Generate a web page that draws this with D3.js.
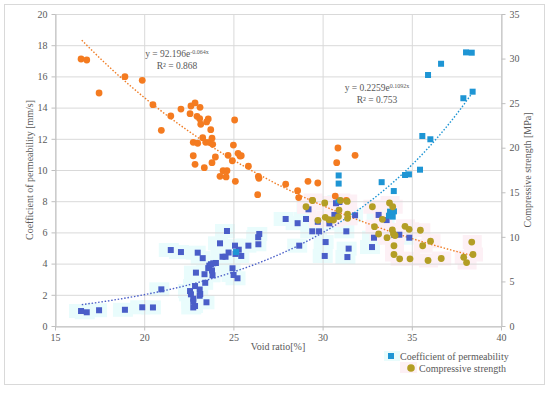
<!DOCTYPE html>
<html>
<head>
<meta charset="utf-8">
<script src="https://cdn.jsdelivr.net/npm/d3@7"></script>
<style>
    body { margin: 0; background: #fff; }
    text { font-family: "Liberation Serif", serif; }
</style>
</head>
<body>
<svg id="chart"></svg>
<script>
// Compressive strength [MPa] (right axis) - orange series, [void ratio, strength]
const strengthOrange = [
    [16.46, 29.95], [16.78, 29.84], [17.47, 26.14], [18.92, 27.97], [19.89, 27.56],
    [20.49, 24.83], [20.96, 21.95], [21.49, 23.56], [22.06, 24.34], [22.57, 23.82],
    [22.62, 24.68], [22.85, 25.02], [23.13, 24.53], [22.96, 23.52], [23.11, 23.26],
    [23.17, 22.63], [23.5, 22.89], [23.59, 23.22], [23.73, 22.02], [23.28, 21.12],
    [23.8, 21.06], [22.75, 20.61], [23.0, 20.5], [23.45, 20.61], [23.65, 20.61],
    [23.84, 20.38], [22.75, 19.1], [22.85, 18.14], [23.37, 17.76], [23.8, 18.32],
    [23.99, 18.96], [24.25, 16.79], [24.42, 17.42], [24.64, 17.42], [24.59, 16.72],
    [24.7, 19.15], [24.94, 18.54], [25.0, 20.3], [25.07, 23.11], [25.11, 16.23],
    [25.26, 19.37], [25.37, 19.07], [25.44, 19.1], [25.84, 17.92], [26.4, 16.79],
    [26.43, 16.57], [26.36, 14.73], [30.86, 19.97], [31.82, 19.15], [30.79, 18.32],
    [27.93, 15.9], [28.6, 15.18], [29.18, 16.23], [29.73, 16.04], [28.66, 14.41],
    [30.71, 14.58], [31.33, 14.1], [29.42, 14.1]
];

// Compressive strength [MPa] (right axis) - olive series
const strengthOlive = [
    [29.07, 13.38], [29.44, 14.08], [30.12, 13.8], [31.0, 14.08], [31.38, 13.97],
    [30.92, 13.01], [29.74, 11.86], [30.15, 12.19], [30.36, 11.92], [30.61, 11.89],
    [30.89, 12.28], [31.4, 12.56], [31.4, 12.08], [32.79, 13.38], [33.75, 13.8],
    [33.93, 13.38], [33.35, 11.97], [32.91, 11.14], [33.14, 10.32], [33.61, 9.91],
    [33.91, 10.77], [33.97, 10.32], [34.06, 10.15], [34.62, 11.18], [34.85, 10.85],
    [35.48, 10.74], [36.05, 9.51], [35.61, 9.0], [34.0, 9.0], [34.0, 8.02],
    [34.32, 7.54], [34.9, 7.54], [35.91, 7.35], [36.65, 7.57], [37.91, 7.71],
    [38.07, 7.12], [38.36, 9.42], [38.43, 8.02]
];

// Coefficient of permeability [mm/s] (left axis) - purple series
const permPurple = [
    [16.46, 0.96], [16.78, 0.88], [17.47, 1.01], [18.92, 1.04], [19.89, 1.2],
    [20.49, 1.19], [20.96, 2.35], [21.49, 4.87], [22.06, 4.74], [22.57, 2.24],
    [22.62, 2.03], [22.75, 1.75], [22.75, 1.56], [22.75, 1.19], [22.85, 1.28],
    [22.85, 2.56], [22.9, 3.42], [23.0, 4.7], [23.28, 4.35], [23.11, 2.34],
    [23.14, 2.05], [23.11, 1.94], [23.49, 1.52], [23.42, 2.77], [23.38, 3.32],
    [23.59, 3.71], [23.65, 3.87], [23.74, 3.96], [23.87, 4.02], [24.02, 4.04],
    [23.8, 3.56], [23.83, 3.25], [24.25, 5.3], [24.39, 4.44], [24.56, 4.44],
    [24.64, 6.09], [24.73, 4.71], [24.95, 3.7], [25.01, 3.27], [25.09, 5.15],
    [25.12, 4.62], [25.23, 3.06], [25.3, 4.89], [25.44, 4.49], [25.84, 5.15],
    [26.4, 5.24], [26.39, 5.69], [26.45, 5.9], [27.93, 6.86], [28.6, 6.59],
    [29.07, 6.86], [29.21, 7.48], [29.73, 6.68], [29.42, 6.07], [29.8, 6.07],
    [28.69, 5.15], [30.17, 5.38], [30.12, 4.49], [30.38, 6.58], [30.66, 7.12],
    [30.75, 7.87], [30.94, 7.95], [30.79, 7.05], [31.33, 6.07], [31.46, 4.96],
    [31.39, 4.42], [31.82, 7.1], [32.88, 5.66], [32.77, 5.06], [33.14, 7.12],
    [33.59, 6.79], [34.02, 5.83], [34.3, 5.85], [34.86, 5.66]
];

// Coefficient of permeability [mm/s] (left axis) - bright blue series
const permBlue = [
    [38.04, 17.54], [38.36, 17.52], [36.64, 16.81], [35.91, 16.09], [38.41, 15.02],
    [37.89, 14.6], [35.59, 12.18], [36.04, 11.97], [35.46, 10.02], [34.84, 9.72],
    [34.62, 9.68], [33.31, 9.22], [33.99, 8.65], [30.9, 9.65], [30.9, 9.13],
    [30.9, 8.05], [33.72, 7.07], [33.93, 7.01], [33.78, 7.33], [34.0, 7.35],
    [25.15, 4.74]
];

// Axis ticks
const xTicks = [15, 20, 25, 30, 35, 40];
const leftTicks = [0, 2, 4, 6, 8, 10, 12, 14, 16, 18, 20];
const rightTicks = [0, 5, 10, 15, 20, 25, 30, 35];

// Trendline coefficients (y = a * e^(b x)) as printed on the chart
const strengthTrend = { a: 92.196, b: -0.064, label: "92.196e", exp: "-0.064x", r2: "R² = 0.868" };
const permTrend = { a: 0.2259, b: 0.1092, label: "0.2259e", exp: "0.1092x", r2: "R² = 0.753" };
const trendRange = [16.5, 38.5];

const width = 550;
const height = 393;
const margin = { top: 14, right: 49, bottom: 67, left: 55 };

const svg = d3
    .select("#chart")
    .attr("width", width)
    .attr("height", height);

// Outer chart border
svg.append("rect")
    .attr("x", 4.5)
    .attr("y", 4.5)
    .attr("width", 540)
    .attr("height", 380)
    .attr("fill", "#fff")
    .attr("stroke", "#d9d9d9");

const x = d3.scaleLinear().domain([15, 40]).range([margin.left, width - margin.right]);
const yLeft = d3.scaleLinear().domain([0, 20]).range([height - margin.bottom, margin.top]);
const yRight = d3.scaleLinear().domain([0, 35]).range([height - margin.bottom, margin.top]);

const gray = "#595959";
const gridColor = "#d9d9d9";
const cyanPatch = "#e9fcfc";
const pinkPatch = "#fdf0f5";

// Light highlight patches behind some marker groups
const patches = svg.append("g");
patches.selectAll(".cyan")
    .data(permPurple)
    .enter()
    .append("rect")
    .attr("x", (d) => x(d[0]) - 12)
    .attr("y", (d) => yLeft(d[1]) - 7)
    .attr("width", 20)
    .attr("height", 14)
    .attr("fill", cyanPatch);
patches.selectAll(".pink")
    .data(strengthOlive)
    .enter()
    .append("rect")
    .attr("x", (d) => x(d[0]) - 9)
    .attr("y", (d) => yRight(d[1]) - 7)
    .attr("width", 19)
    .attr("height", 14)
    .attr("fill", pinkPatch);

// Gridlines
svg.append("g")
    .selectAll("line")
    .data(leftTicks)
    .enter()
    .append("line")
    .attr("x1", x(15))
    .attr("x2", x(40))
    .attr("y1", (d) => yLeft(d) + 0.5)
    .attr("y2", (d) => yLeft(d) + 0.5)
    .attr("stroke", gridColor);
svg.append("g")
    .selectAll("line")
    .data(xTicks)
    .enter()
    .append("line")
    .attr("x1", (d) => x(d) + 0.5)
    .attr("x2", (d) => x(d) + 0.5)
    .attr("y1", yLeft(0))
    .attr("y2", yLeft(20))
    .attr("stroke", gridColor);

// Axes
const styleAxis = (g) => {
    g.attr("font-family", "Liberation Serif, serif");
    g.select(".domain").attr("stroke", "#bfbfbf");
    g.selectAll(".tick line").attr("stroke", "#bfbfbf");
    g.selectAll(".tick text")
        .attr("fill", gray)
        .style("font-size", "10px");
};

svg.append("g")
    .attr("transform", `translate(0,${yLeft(0) + 0.5})`)
    .call(d3.axisBottom(x).tickValues(xTicks).tickSize(4).tickSizeOuter(0).tickPadding(3))
    .call(styleAxis);

svg.append("g")
    .attr("transform", `translate(${x(15) + 0.5},0)`)
    .call(d3.axisLeft(yLeft).tickValues(leftTicks).tickSize(4).tickSizeOuter(0).tickPadding(4))
    .call(styleAxis);

svg.append("g")
    .attr("transform", `translate(${x(40) + 0.5},0)`)
    .call(d3.axisRight(yRight).tickValues(rightTicks).tickSize(4).tickSizeOuter(0).tickPadding(4))
    .call(styleAxis);

// Axis titles
svg.append("text")
    .attr("x", (x(15) + x(40)) / 2)
    .attr("y", 350)
    .attr("text-anchor", "middle")
    .attr("fill", gray)
    .style("font-size", "10px")
    .text("Void ratio[%]");

svg.append("text")
    .attr("transform", `translate(33,${(yLeft(0) + yLeft(20)) / 2}) rotate(-90)`)
    .attr("text-anchor", "middle")
    .attr("fill", gray)
    .style("font-size", "10px")
    .text("Coefficient of permeability [mm/s]");

svg.append("text")
    .attr("transform", `translate(531,${(yLeft(0) + yLeft(20)) / 2}) rotate(-90)`)
    .attr("text-anchor", "middle")
    .attr("fill", gray)
    .style("font-size", "10px")
    .text("Compressive strength [MPa]");

// Trendlines
const trendPoints = (t, from, to) => d3.range(from, to + 0.001, 0.25).map((v) => [v, t.a * Math.exp(t.b * v)]);

const lineRight = d3.line().x((d) => x(d[0])).y((d) => yRight(d[1]));
const lineLeft = d3.line().x((d) => x(d[0])).y((d) => yLeft(d[1]));

svg.append("path")
    .attr("d", lineRight(trendPoints(strengthTrend, trendRange[0], trendRange[1])))
    .attr("fill", "none")
    .attr("stroke", "#f07c24")
    .attr("stroke-width", 1.4)
    .attr("stroke-dasharray", "1.5,1.8");

// Markers
const size = 6;
svg.append("g")
    .selectAll("rect")
    .data(permPurple)
    .enter()
    .append("rect")
    .attr("x", (d) => x(d[0]) - size / 2)
    .attr("y", (d) => yLeft(d[1]) - size / 2)
    .attr("width", size)
    .attr("height", size)
    .attr("fill", "#4a5ec8");

svg.append("g")
    .selectAll("rect")
    .data(permBlue)
    .enter()
    .append("rect")
    .attr("x", (d) => x(d[0]) - size / 2)
    .attr("y", (d) => yLeft(d[1]) - size / 2)
    .attr("width", size)
    .attr("height", size)
    .attr("fill", "#1e95d4");

svg.append("path")
    .attr("d", lineLeft(trendPoints(permTrend, trendRange[0], 31)))
    .attr("fill", "none")
    .attr("stroke", "#4a5ec8")
    .attr("stroke-width", 1.4)
    .attr("stroke-dasharray", "1.5,1.8");
svg.append("path")
    .attr("d", lineLeft(trendPoints(permTrend, 31, trendRange[1])))
    .attr("fill", "none")
    .attr("stroke", "#1e95d4")
    .attr("stroke-width", 1.4)
    .attr("stroke-dasharray", "1.5,1.8");

svg.append("g")
    .selectAll("circle")
    .data(strengthOrange)
    .enter()
    .append("circle")
    .attr("cx", (d) => x(d[0]))
    .attr("cy", (d) => yRight(d[1]))
    .attr("r", 3.4)
    .attr("fill", "#f47b20");

svg.append("g")
    .selectAll("circle")
    .data(strengthOlive)
    .enter()
    .append("circle")
    .attr("cx", (d) => x(d[0]))
    .attr("cy", (d) => yRight(d[1]))
    .attr("r", 3.4)
    .attr("fill", "#b39e25");

// Trendline equations
const equation = (t, cx, cy) => {
    const eq = svg.append("text")
        .attr("x", cx)
        .attr("y", cy)
        .attr("text-anchor", "middle")
        .attr("fill", gray)
        .style("font-size", "9.5px");
    eq.append("tspan").text("y = " + t.label);
    eq.append("tspan").attr("dy", -3.5).style("font-size", "6px").text(t.exp);
    svg.append("text")
        .attr("x", cx)
        .attr("y", cy + 12)
        .attr("text-anchor", "middle")
        .attr("fill", gray)
        .style("font-size", "9.5px")
        .text(t.r2);
};
equation(strengthTrend, 177, 57);
equation(permTrend, 377, 91);

// Legend
const legend = svg.append("g");
legend.append("rect").attr("x", 384).attr("y", 351).attr("width", 16).attr("height", 10).attr("fill", cyanPatch);
legend.append("rect").attr("x", 388).attr("y", 353).attr("width", size).attr("height", size).attr("fill", "#1e95d4");
legend.append("text")
    .attr("x", 400)
    .attr("y", 359.5)
    .attr("fill", gray)
    .style("font-size", "10px")
    .text("Coefficient  of permeability");
legend.append("rect").attr("x", 400).attr("y", 362).attr("width", 17).attr("height", 11).attr("fill", pinkPatch);
legend.append("circle").attr("cx", 411).attr("cy", 368).attr("r", 3.8).attr("fill", "#b39e25");
legend.append("text")
    .attr("x", 419)
    .attr("y", 371.5)
    .attr("fill", gray)
    .style("font-size", "10px")
    .text("Compressive strength");
</script>
</body>
</html>
